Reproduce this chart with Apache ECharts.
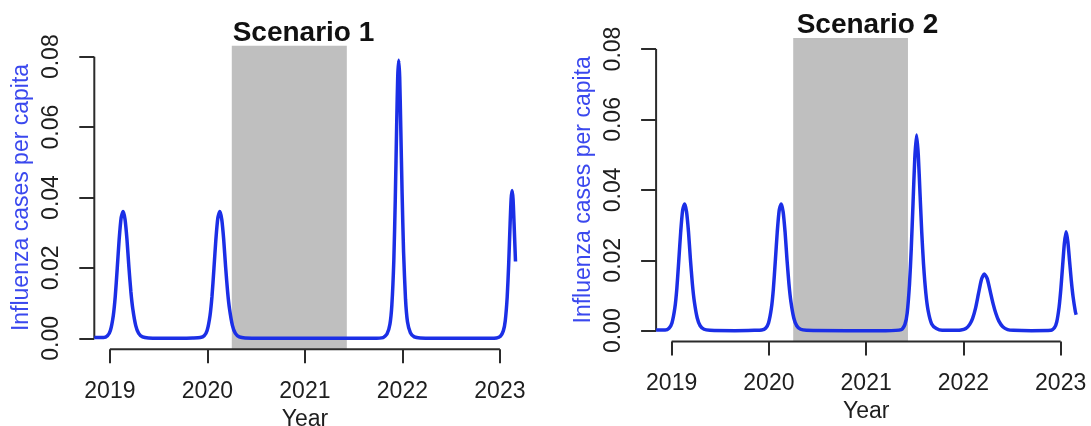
<!DOCTYPE html>
<html>
<head>
<meta charset="utf-8">
<title>Influenza cases per capita</title>
<script src="https://cdn.jsdelivr.net/npm/echarts@6/dist/echarts.min.js"></script>
<style>
  html, body { margin: 0; padding: 0; background: #ffffff; }
  #chart { width: 1091px; height: 426px; }
</style>
</head>
<body>
<div id="chart"></div>
<script>
// Tick positions shared by both panels
const yearTicks = [2019, 2020, 2021, 2022, 2023];
const caseTicks = [0, 0.02, 0.04, 0.06, 0.08];

// Shaded intervention period (decimal years)
const interventionPeriod = [2020.25, 2021.43];

// Scenario 1: simulated influenza cases per capita over time
const timeS1 = [
  2018.84, 2018.90, 2018.935, 2018.975, 2019.005, 2019.035, 2019.055, 2019.075, 2019.095, 2019.115,
  2019.135, 2019.155, 2019.175, 2019.195, 2019.215, 2019.235, 2019.265, 2019.295, 2019.335, 2019.395,
  2019.65, 2019.85, 2019.927, 2019.967, 2019.997, 2020.027, 2020.047, 2020.067, 2020.087, 2020.107,
  2020.127, 2020.147, 2020.167, 2020.187, 2020.207, 2020.227, 2020.257, 2020.287, 2020.327, 2020.387,
  2020.8, 2021.3, 2021.70, 2021.802, 2021.842, 2021.872, 2021.892, 2021.912, 2021.927, 2021.942,
  2021.952, 2021.962, 2021.972, 2021.982, 2021.997, 2022.012, 2022.032, 2022.052, 2022.082, 2022.122,
  2022.182, 2022.5, 2022.9, 2022.965, 2023.005, 2023.035, 2023.055, 2023.075, 2023.090, 2023.105,
  2023.115, 2023.125, 2023.135, 2023.145, 2023.160
];
const casesS1 = [
  0.0002, 0.0002, 0.0002, 0.0007, 0.0022, 0.0065, 0.0119, 0.0198, 0.0281, 0.0342,
  0.0360, 0.0338, 0.0281, 0.0202, 0.0133, 0.0083, 0.0036, 0.0014, 0.0004, 0.0001,
  0.0000, 0.0001, 0.0002, 0.0007, 0.0022, 0.0065, 0.0119, 0.0198, 0.0281, 0.0342,
  0.0360, 0.0338, 0.0281, 0.0202, 0.0133, 0.0083, 0.0036, 0.0014, 0.0004, 0.0001,
  0.0000, 0.0000, 0.0000, 0.0002, 0.0012, 0.0040, 0.0095, 0.0221, 0.0395, 0.0616,
  0.0743, 0.0790, 0.0743, 0.0616, 0.0411, 0.0245, 0.0111, 0.0047, 0.0016, 0.0004,
  0.0001, 0.0000, 0.0000, 0.0001, 0.0006, 0.0021, 0.0050, 0.0118, 0.0210, 0.0328,
  0.0395, 0.0420, 0.0395, 0.0328, 0.0218
];

// Scenario 2: simulated influenza cases per capita over time
const timeS2 = [
  2018.84, 2018.90, 2018.933, 2018.973, 2019.003, 2019.033, 2019.053, 2019.073, 2019.093, 2019.113,
  2019.133, 2019.153, 2019.173, 2019.193, 2019.213, 2019.233, 2019.263, 2019.293, 2019.333, 2019.393,
  2019.65, 2019.85, 2019.926, 2019.966, 2019.996, 2020.026, 2020.046, 2020.066, 2020.086, 2020.106,
  2020.126, 2020.146, 2020.166, 2020.186, 2020.206, 2020.226, 2020.256, 2020.286, 2020.326, 2020.386,
  2020.8, 2021.2, 2021.362, 2021.398, 2021.422, 2021.446, 2021.464, 2021.482, 2021.500, 2021.518,
  2021.536, 2021.554, 2021.572, 2021.590, 2021.614, 2021.638, 2021.674, 2021.722, 2021.782, 2021.88,
  2021.975, 2022.025, 2022.065, 2022.095, 2022.125, 2022.155, 2022.185, 2022.215, 2022.245, 2022.275,
  2022.305, 2022.335, 2022.365, 2022.405, 2022.455, 2022.515, 2022.7, 2022.900, 2022.936, 2022.960,
  2022.984, 2023.002, 2023.020, 2023.038, 2023.056, 2023.074, 2023.092, 2023.110, 2023.128, 2023.152,
  2023.160
];
const casesS2 = [
  0.0002, 0.0002, 0.0002, 0.0007, 0.0022, 0.0065, 0.0119, 0.0198, 0.0281, 0.0342,
  0.0360, 0.0338, 0.0281, 0.0202, 0.0133, 0.0083, 0.0036, 0.0014, 0.0004, 0.0001,
  0.0000, 0.0001, 0.0002, 0.0007, 0.0022, 0.0065, 0.0119, 0.0198, 0.0281, 0.0342,
  0.0360, 0.0338, 0.0281, 0.0202, 0.0133, 0.0083, 0.0036, 0.0014, 0.0004, 0.0001,
  0.0000, 0.0000, 0.0003, 0.0017, 0.0050, 0.0133, 0.0234, 0.0361, 0.0489, 0.0556,
  0.0500, 0.0389, 0.0278, 0.0189, 0.0106, 0.0056, 0.0019, 0.0006, 0.0001, 0.0001,
  0.0002, 0.0006, 0.0018, 0.0035, 0.0064, 0.0105, 0.0145, 0.0161, 0.0148, 0.0113,
  0.0077, 0.0048, 0.0027, 0.0011, 0.0003, 0.0001, 0.0000, 0.0001, 0.0008, 0.0025,
  0.0067, 0.0118, 0.0183, 0.0247, 0.0281, 0.0253, 0.0197, 0.0141, 0.0096, 0.0053,
  0.0045
];

// Plot-region extent in data units (R-style 4% padding)
const X_MIN = 2018.84, X_MAX = 2023.16;
const Y_MIN = -0.0031, Y_MAX = 0.0831;

const FONT = '"Liberation Sans", Arial, Helvetica, sans-serif';
const AXIS_COLOR = '#2b2b2b';
const TEXT_COLOR = '#1e1e1e';
const CURVE_COLOR = '#1b2fe6';
const YLAB_COLOR = '#3a48ee';
const BAND_COLOR = '#bfbfbf';

const panels = [
  { title: 'Scenario 1', time: timeS1, cases: casesS1,
    grid: { left: 94.3, top: 45.8, width: 421.2, height: 303.4 },
    titlePos: { left: 303.5, top: 18 }, yearGap: 46 },
  { title: 'Scenario 2', time: timeS2, cases: casesS2,
    grid: { left: 656.1, top: 38.1, width: 420.1, height: 303.5 },
    titlePos: { left: 867.5, top: 10 }, yearGap: 42 }
];

const option = {
  animation: false,
  backgroundColor: '#ffffff',
  textStyle: { fontFamily: FONT },
  title: [], grid: [], xAxis: [], yAxis: [], series: []
};

panels.forEach((p, i) => {
  option.title.push({
    text: p.title,
    left: p.titlePos.left,
    top: p.titlePos.top,
    textAlign: 'center',
    padding: 0,
    textStyle: { fontFamily: FONT, fontSize: 28, fontWeight: 'bold', color: '#111111', lineHeight: 30 }
  });

  // fixed plot box: labels may sit near the canvas edge without shrinking the grid
  option.grid.push(Object.assign({ containLabel: false, outerBoundsMode: 'none' }, p.grid));

  option.xAxis.push({
    type: 'value', gridIndex: i, min: X_MIN, max: X_MAX,
    axisLine: { show: false, onZero: false },
    splitLine: { show: false },
    axisTick: { show: true, customValues: yearTicks, length: 14, lineStyle: { color: AXIS_COLOR, width: 2 } },
    axisLabel: { customValues: yearTicks, formatter: v => String(v), margin: 31,
                 fontSize: 23, color: TEXT_COLOR, fontFamily: FONT },
    name: 'Year', nameLocation: 'middle', nameGap: p.yearGap,
    nameTextStyle: { fontSize: 23, color: TEXT_COLOR, fontFamily: FONT }
  });

  option.yAxis.push({
    type: 'value', gridIndex: i, min: Y_MIN, max: Y_MAX,
    axisLine: { show: false, onZero: false },
    splitLine: { show: false },
    axisTick: { show: true, customValues: caseTicks, length: 15, lineStyle: { color: AXIS_COLOR, width: 2 } },
    axisLabel: { customValues: caseTicks, formatter: v => v.toFixed(2), rotate: 90, margin: 31,
                 fontSize: 23, color: TEXT_COLOR, fontFamily: FONT },
    name: 'Influenza cases per capita', nameLocation: 'middle', nameRotate: 90, nameGap: 61,
    nameTextStyle: { fontSize: 23, color: YLAB_COLOR, fontFamily: FONT }
  });

  // shaded intervention period
  option.series.push({
    type: 'line', xAxisIndex: i, yAxisIndex: i, data: [], silent: true, z: 1,
    markArea: {
      silent: true,
      itemStyle: { color: BAND_COLOR, opacity: 1 },
      data: [[{ xAxis: interventionPeriod[0] }, { xAxis: interventionPeriod[1] }]]
    }
  });

  // axis lines spanning first to last tick
  option.series.push({
    type: 'line', xAxisIndex: i, yAxisIndex: i, silent: true, z: 2, clip: false,
    symbol: 'none', lineStyle: { color: AXIS_COLOR, width: 2 },
    data: [[yearTicks[0], Y_MIN], [yearTicks[yearTicks.length - 1], Y_MIN]]
  });
  option.series.push({
    type: 'line', xAxisIndex: i, yAxisIndex: i, silent: true, z: 2, clip: false,
    symbol: 'none', lineStyle: { color: AXIS_COLOR, width: 2 },
    data: [[X_MIN, caseTicks[0]], [X_MIN, caseTicks[caseTicks.length - 1]]]
  });

  // epidemic curve
  option.series.push({
    type: 'line', xAxisIndex: i, yAxisIndex: i, z: 3, clip: true,
    symbol: 'none', smooth: 0.2,
    lineStyle: { color: CURVE_COLOR, width: 3.5 },
    data: p.time.map((t, k) => [t, p.cases[k]])
  });
});

const chart = echarts.init(document.getElementById('chart'), null, { renderer: 'canvas' });
chart.setOption(option);
</script>
</body>
</html>
